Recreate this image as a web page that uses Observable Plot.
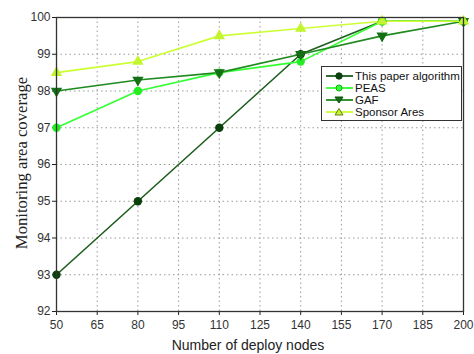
<!DOCTYPE html>
<html>
<head>
<meta charset="utf-8">
<script src="https://cdn.jsdelivr.net/npm/d3@7"></script>
<script src="https://cdn.jsdelivr.net/npm/@observablehq/plot@0.6"></script>
<style>
  html, body { margin: 0; padding: 0; background: #fff; }
  #wrap { position: relative; width: 474px; height: 354px; }
  .ylab { position: absolute; left: 22px; top: 163px; transform: translate(-50%, -50%) rotate(-90deg);
          font-family: "Liberation Serif", "DejaVu Serif", serif; font-size: 16.7px; color: #222; white-space: nowrap; }
  .xlab { position: absolute; left: 248px; top: 345px; transform: translate(-50%, -50%);
          font-family: "Liberation Sans", Arial, sans-serif; font-size: 14px; color: #222; white-space: nowrap; }
  #legend { position: absolute; left: 321px; top: 66px; width: 141px; height: 55px; border: 1px solid #333;
            background: #fff; font-family: "Liberation Sans", Arial, sans-serif; font-size: 11.5px; color: #111; box-sizing: border-box; }
  #legend .row { position: absolute; left: 3px; height: 12px; display: flex; align-items: center; white-space: nowrap; }
  #legend svg { margin-right: 1px; flex: none; }
</style>
</head>
<body>
<div id="wrap"></div>
<script>
const nodes = [50, 80, 110, 140, 170, 200];
const seriesNames = ["This paper algorithm", "PEAS", "GAF", "Sponsor Ares"];
const thisPaper = [93, 95, 97, 99, 99.9, 99.9];
const peas = [97, 98, 98.5, 98.8, 99.9, 99.9];
const gaf = [98, 98.3, 98.5, 99.0, 99.5, 99.9];
const sponsor = [98.5, 98.8, 99.5, 99.7, 99.9, 99.9];
const xTicks = [50, 65, 80, 95, 110, 125, 140, 155, 170, 185, 200];
const yTicks = [92, 93, 94, 95, 96, 97, 98, 99, 100];

const lineColors = ["#1d5e1d", "#33ff33", "#1f8a1f", "#ccff33"];
const markColors = ["#0b3f0b", "#22ee22", "#157015", "#c2f52e"];

const valuesBySeries = [thisPaper, peas, gaf, sponsor];
const data = [];
seriesNames.forEach((s, i) => nodes.forEach((n, j) => data.push({series: s, x: n, y: valuesBySeries[i][j]})));

const downTriangle = {
  draw(context, size) {
    const s = Math.sqrt(size / 0.433) ;
    const h = s * Math.sqrt(3) / 2;
    context.moveTo(0, h * 2 / 3);
    context.lineTo(s / 2, -h / 3);
    context.lineTo(-s / 2, -h / 3);
    context.closePath();
  }
};
const upTriangle = {
  draw(context, size) {
    const s = Math.sqrt(size / 0.433);
    const h = s * Math.sqrt(3) / 2;
    context.moveTo(0, -h * 2 / 3);
    context.lineTo(s / 2, h / 3);
    context.lineTo(-s / 2, h / 3);
    context.closePath();
  }
};

const chart = Plot.plot({
  width: 474,
  height: 354,
  marginLeft: 56,
  marginRight: 11,
  marginTop: 17,
  marginBottom: 43,
  style: {fontFamily: '"Liberation Sans", Arial, sans-serif', fontSize: "12px", color: "#333", background: "#fff"},
  x: {domain: [50, 200], ticks: xTicks, label: null},
  y: {domain: [92, 100], ticks: yTicks, label: null},
  color: {domain: seriesNames, range: lineColors},
  symbol: {domain: seriesNames, range: ["circle", "circle", downTriangle, upTriangle]},
  marks: [
    Plot.gridX(xTicks, {stroke: "#9a9a9a", strokeOpacity: 1, strokeDasharray: "1.5,3"}),
    Plot.gridY(yTicks, {stroke: "#9a9a9a", strokeOpacity: 1, strokeDasharray: "1.5,3"}),
    Plot.axisX({ticks: xTicks, tickSize: 4, tickPadding: 5, fontSize: 12, stroke: "#222", fill: "#333"}),
    Plot.axisY({ticks: yTicks, tickSize: 4, tickPadding: 2, fontSize: 12, stroke: "#222", fill: "#333"}),
    Plot.line(data, {x: "x", y: "y", z: "series", stroke: "series", strokeWidth: 1.6}),
    Plot.dot(data, {x: "x", y: "y", symbol: "series", fill: (d) => markColors[seriesNames.indexOf(d.series)], stroke: "none", r: 4.2}),
    Plot.frame({stroke: "#333", strokeWidth: 1.3})
  ]
});

const wrap = document.getElementById("wrap");
wrap.appendChild(chart);

const yl = document.createElement("div");
yl.className = "ylab"; yl.textContent = "Monitoring area coverage";
wrap.appendChild(yl);
const xl = document.createElement("div");
xl.className = "xlab"; xl.textContent = "Number of deploy nodes";
wrap.appendChild(xl);

const legend = document.createElement("div");
legend.id = "legend";
const symPaths = [
  '<circle cx="14" cy="6" r="3.2" fill="COL" stroke="#0b3f0b"/>',
  '<circle cx="14" cy="6" r="3" fill="#33ff33" stroke="#11aa11"/>',
  '<path d="M10,3 L18,3 L14,9 Z" fill="COL" stroke="#0b4f0b"/>',
  '<path d="M14,2.5 L18,9 L10,9 Z" fill="COL" stroke="#6a7a10"/>'
];
seriesNames.forEach((s, i) => {
  const row = document.createElement("div");
  row.className = "row";
  row.style.top = (3 + i * 12) + "px";
  row.innerHTML = `<svg width="29" height="12"><line x1="1" y1="6" x2="28" y2="6" stroke="${lineColors[i]}" stroke-width="1.8"/>${symPaths[i].replace("COL", markColors[i])}</svg><span>${s}</span>`;
  legend.appendChild(row);
});
wrap.appendChild(legend);
</script>
</body>
</html>
